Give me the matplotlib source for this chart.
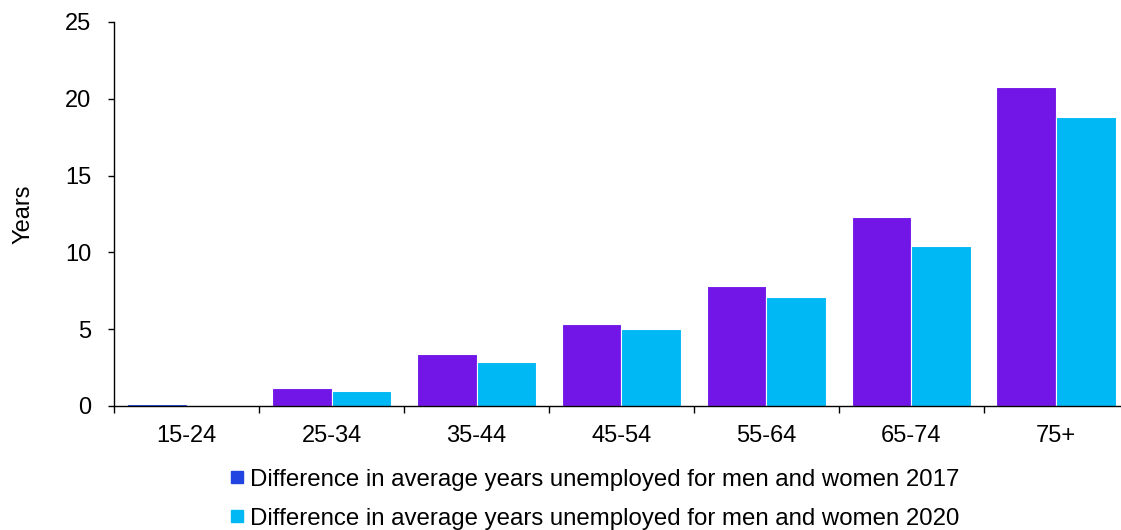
import matplotlib
matplotlib.use("Agg")
import matplotlib.pyplot as plt
from matplotlib.lines import Line2D
import numpy as np

plt.rcParams['font.family'] = ['Liberation Sans', 'DejaVu Sans']

age_groups = ["15-24", "25-34", "35-44", "45-54", "55-64", "65-74", "75+"]
diff_2017 = [0.12, 1.17, 3.4, 5.35, 7.8, 12.3, 20.75]
diff_2020 = [0.05, 0.98, 2.87, 5.0, 7.1, 10.4, 18.8]
labels = ["Difference in average years unemployed for men and women 2017",
          "Difference in average years unemployed for men and women 2020"]

purple = "#7216E8"
blue17 = "#2244E0"
cyan = "#00B8F4"

fig = plt.figure(figsize=(11.21, 5.30), dpi=100)
# axis runs a bit past the right edge, like the source image
ax = fig.add_axes([0.1020, 0.234, 0.9048, 0.7245])

x = np.arange(len(age_groups))
w = 0.412
cols17 = [blue17 if i == 0 else purple for i in range(len(age_groups))]
ax.bar(x - w / 2, diff_2017, w, color=cols17, edgecolor="white", linewidth=0.8)
ax.bar(x + w / 2, diff_2020, w, color=cyan, edgecolor="white", linewidth=0.8)

ax.set_xlim(-0.5, len(age_groups) - 0.5)
ax.set_ylim(0, 25)
ax.set_yticks([0, 5, 10, 15, 20, 25])
ax.set_xticks(x)
ax.set_xticklabels(age_groups)
ax.set_xticks(np.arange(len(age_groups) + 1) - 0.5, minor=True)
ax.tick_params(axis='x', which='major', length=0, pad=14, labelsize=17)
ax.tick_params(axis='x', which='minor', length=5, width=1)
ax.tick_params(axis='y', length=4.5, width=1, labelsize=17, pad=12)
for s in ["top", "right"]:
    ax.spines[s].set_visible(False)
ax.spines["left"].set_linewidth(1)
ax.spines["bottom"].set_linewidth(1)
ax.set_ylabel("Years", fontsize=17, labelpad=22)

handles = [Line2D([], [], marker='s', linestyle='none', color=blue17, markersize=8),
           Line2D([], [], marker='s', linestyle='none', color=cyan, markersize=8)]
fig.legend(handles, labels, loc="upper left", bbox_to_anchor=(0.2065, 0.116),
           frameon=False, fontsize=17.3, handletextpad=0.25, labelspacing=0.72,
           handlelength=0.5, borderpad=0, borderaxespad=0)

fig.savefig("out.png", dpi=100)
